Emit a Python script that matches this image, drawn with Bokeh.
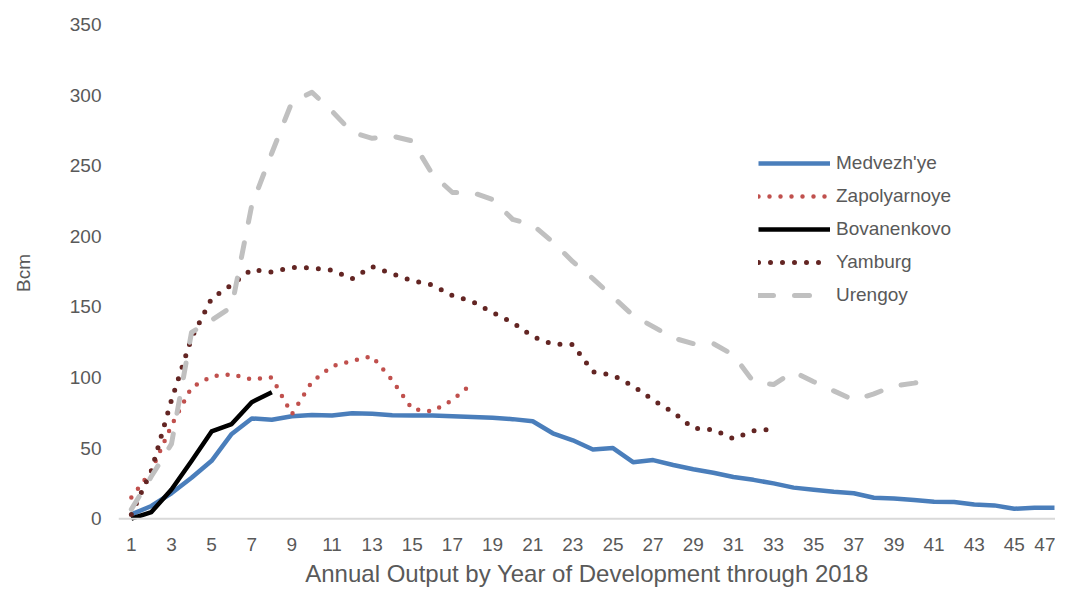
from bokeh.plotting import figure
from bokeh.models import Range1d, FixedTicker, Span, Legend, LegendItem
from bokeh.embed import file_html
from bokeh.resources import INLINE

# ---- data ----
years = list(range(1, 48))
medvezhye = [3, 9, 18, 29, 41, 60, 71, 70, 72.5, 73.5, 73, 74.7, 74.3, 73.3, 73, 73,
             72.5, 72, 71.5, 70.5, 69, 60.5, 55.5, 49, 50, 40, 41.5, 38, 35, 32.5,
             29.5, 27.5, 25, 22, 20.5, 19, 18, 14.8, 14.3, 13.3, 12, 11.8, 10, 9.4,
             7, 7.7, 7.7]
zapolyarnoye = [15, 34, 66, 93, 100.8, 102.3, 98.7, 100, 74, 97, 108, 111.7, 115,
                98, 77.6, 76, 84, 96]
bovanenkovo = [0, 4.7, 20.7, 40.8, 61.8, 67, 82.5, 89.5]
yamburg = [3, 34, 84, 128, 156, 165.7, 176.5, 174.7, 178, 177.5, 176, 170, 178.5,
           173.5, 168.5, 165.5, 158, 153.7, 146, 139, 129, 123.6, 123.4, 104, 101.5,
           94, 84, 75.4, 64, 63, 56.6, 62.3, 63.5]
urengoy = [6.6, 30, 53, 132, 140.6, 150, 222, 259, 295, 302, 288.6, 273.6, 269.4,
           271, 267.5, 244, 231, 231, 226, 212, 208, 196, 182, 170, 157, 144, 136,
           128, 124, 124, 116, 97, 95, 104, 97, 90.5, 84, 88.4, 94, 96, 99]
series_names = ["Medvezh'ye", "Zapolyarnoye", "Bovanenkovo", "Yamburg", "Urengoy"]
x_ticks = list(range(1, 48, 2))
y_ticks = list(range(0, 351, 50))
x_title = "Annual Output by Year of Development through 2018"
y_title = "Bcm"

FONT = "'Liberation Sans Narrow', 'Arial Narrow', 'Liberation Sans', sans-serif"
TXT = "#595959"

p = figure(width=1055, height=589, output_backend="svg", toolbar_location=None,
           x_range=Range1d(0.36, 47.05), y_range=Range1d(-2, 350),
           min_border_left=118, min_border_right=0, min_border_top=24,
           min_border_bottom=0)
p.outline_line_color = None
p.xgrid.visible = False
p.ygrid.visible = False
p.background_fill_color = "white"

for ax in (p.xaxis[0], p.yaxis[0]):
    ax.major_tick_line_color = None
    ax.minor_tick_line_color = None
    ax.major_label_text_font = FONT
    ax.major_label_text_color = TXT
    ax.major_label_text_font_size = "19px"
    ax.axis_label_text_font = FONT
    ax.axis_label_text_color = TXT
    ax.axis_label_text_font_style = "normal"

p.xaxis.ticker = FixedTicker(ticks=x_ticks)
p.yaxis.ticker = FixedTicker(ticks=y_ticks)
p.xaxis.axis_line_color = None
p.yaxis.axis_line_color = None
p.xaxis.major_label_standoff = 10
p.yaxis.major_label_standoff = 11
p.xaxis.axis_label = x_title
p.xaxis.axis_label_text_font_size = "24px"
p.xaxis.axis_label_standoff = 6
p.yaxis.axis_label = y_title
p.yaxis.axis_label_text_font_size = "19px"
p.yaxis.axis_label_standoff = 33

p.add_layout(Span(location=0, dimension="width", line_color="#d9d9d9", line_width=2))

r1 = p.line(years, medvezhye, line_color="#4a7ebb", line_width=4.5, line_join="round")
r2 = p.line(years[:len(zapolyarnoye)], zapolyarnoye, line_color="#c0504d",
            line_width=4.5, line_dash="0 11", line_cap="round", line_join="round")
r3 = p.line(years[:len(bovanenkovo)], bovanenkovo, line_color="black",
            line_width=4.5, line_join="round")
r4 = p.line(years[:len(yamburg)], yamburg, line_color="#632523",
            line_width=5, line_dash="0 12", line_cap="round", line_join="round")
r5 = p.line(years[:len(urengoy)], urengoy, line_color="#c0c0c0",
            line_width=5, line_dash="15 21", line_cap="round", line_join="round")

legend = Legend(items=[LegendItem(label=n, renderers=[r])
                       for n, r in zip(series_names, [r1, r2, r3, r4, r5])],
                location=(640, 213), orientation="vertical")
legend.label_text_font = FONT
legend.label_text_font_size = "19px"
legend.label_text_color = TXT
legend.glyph_width = 72
legend.glyph_height = 26
legend.label_height = 26
legend.spacing = 7
legend.padding = 0
legend.margin = 0
legend.label_standoff = 6
legend.border_line_alpha = 0
legend.background_fill_alpha = 0
p.add_layout(legend)

open("out.html", "w").write(file_html(p, INLINE))
